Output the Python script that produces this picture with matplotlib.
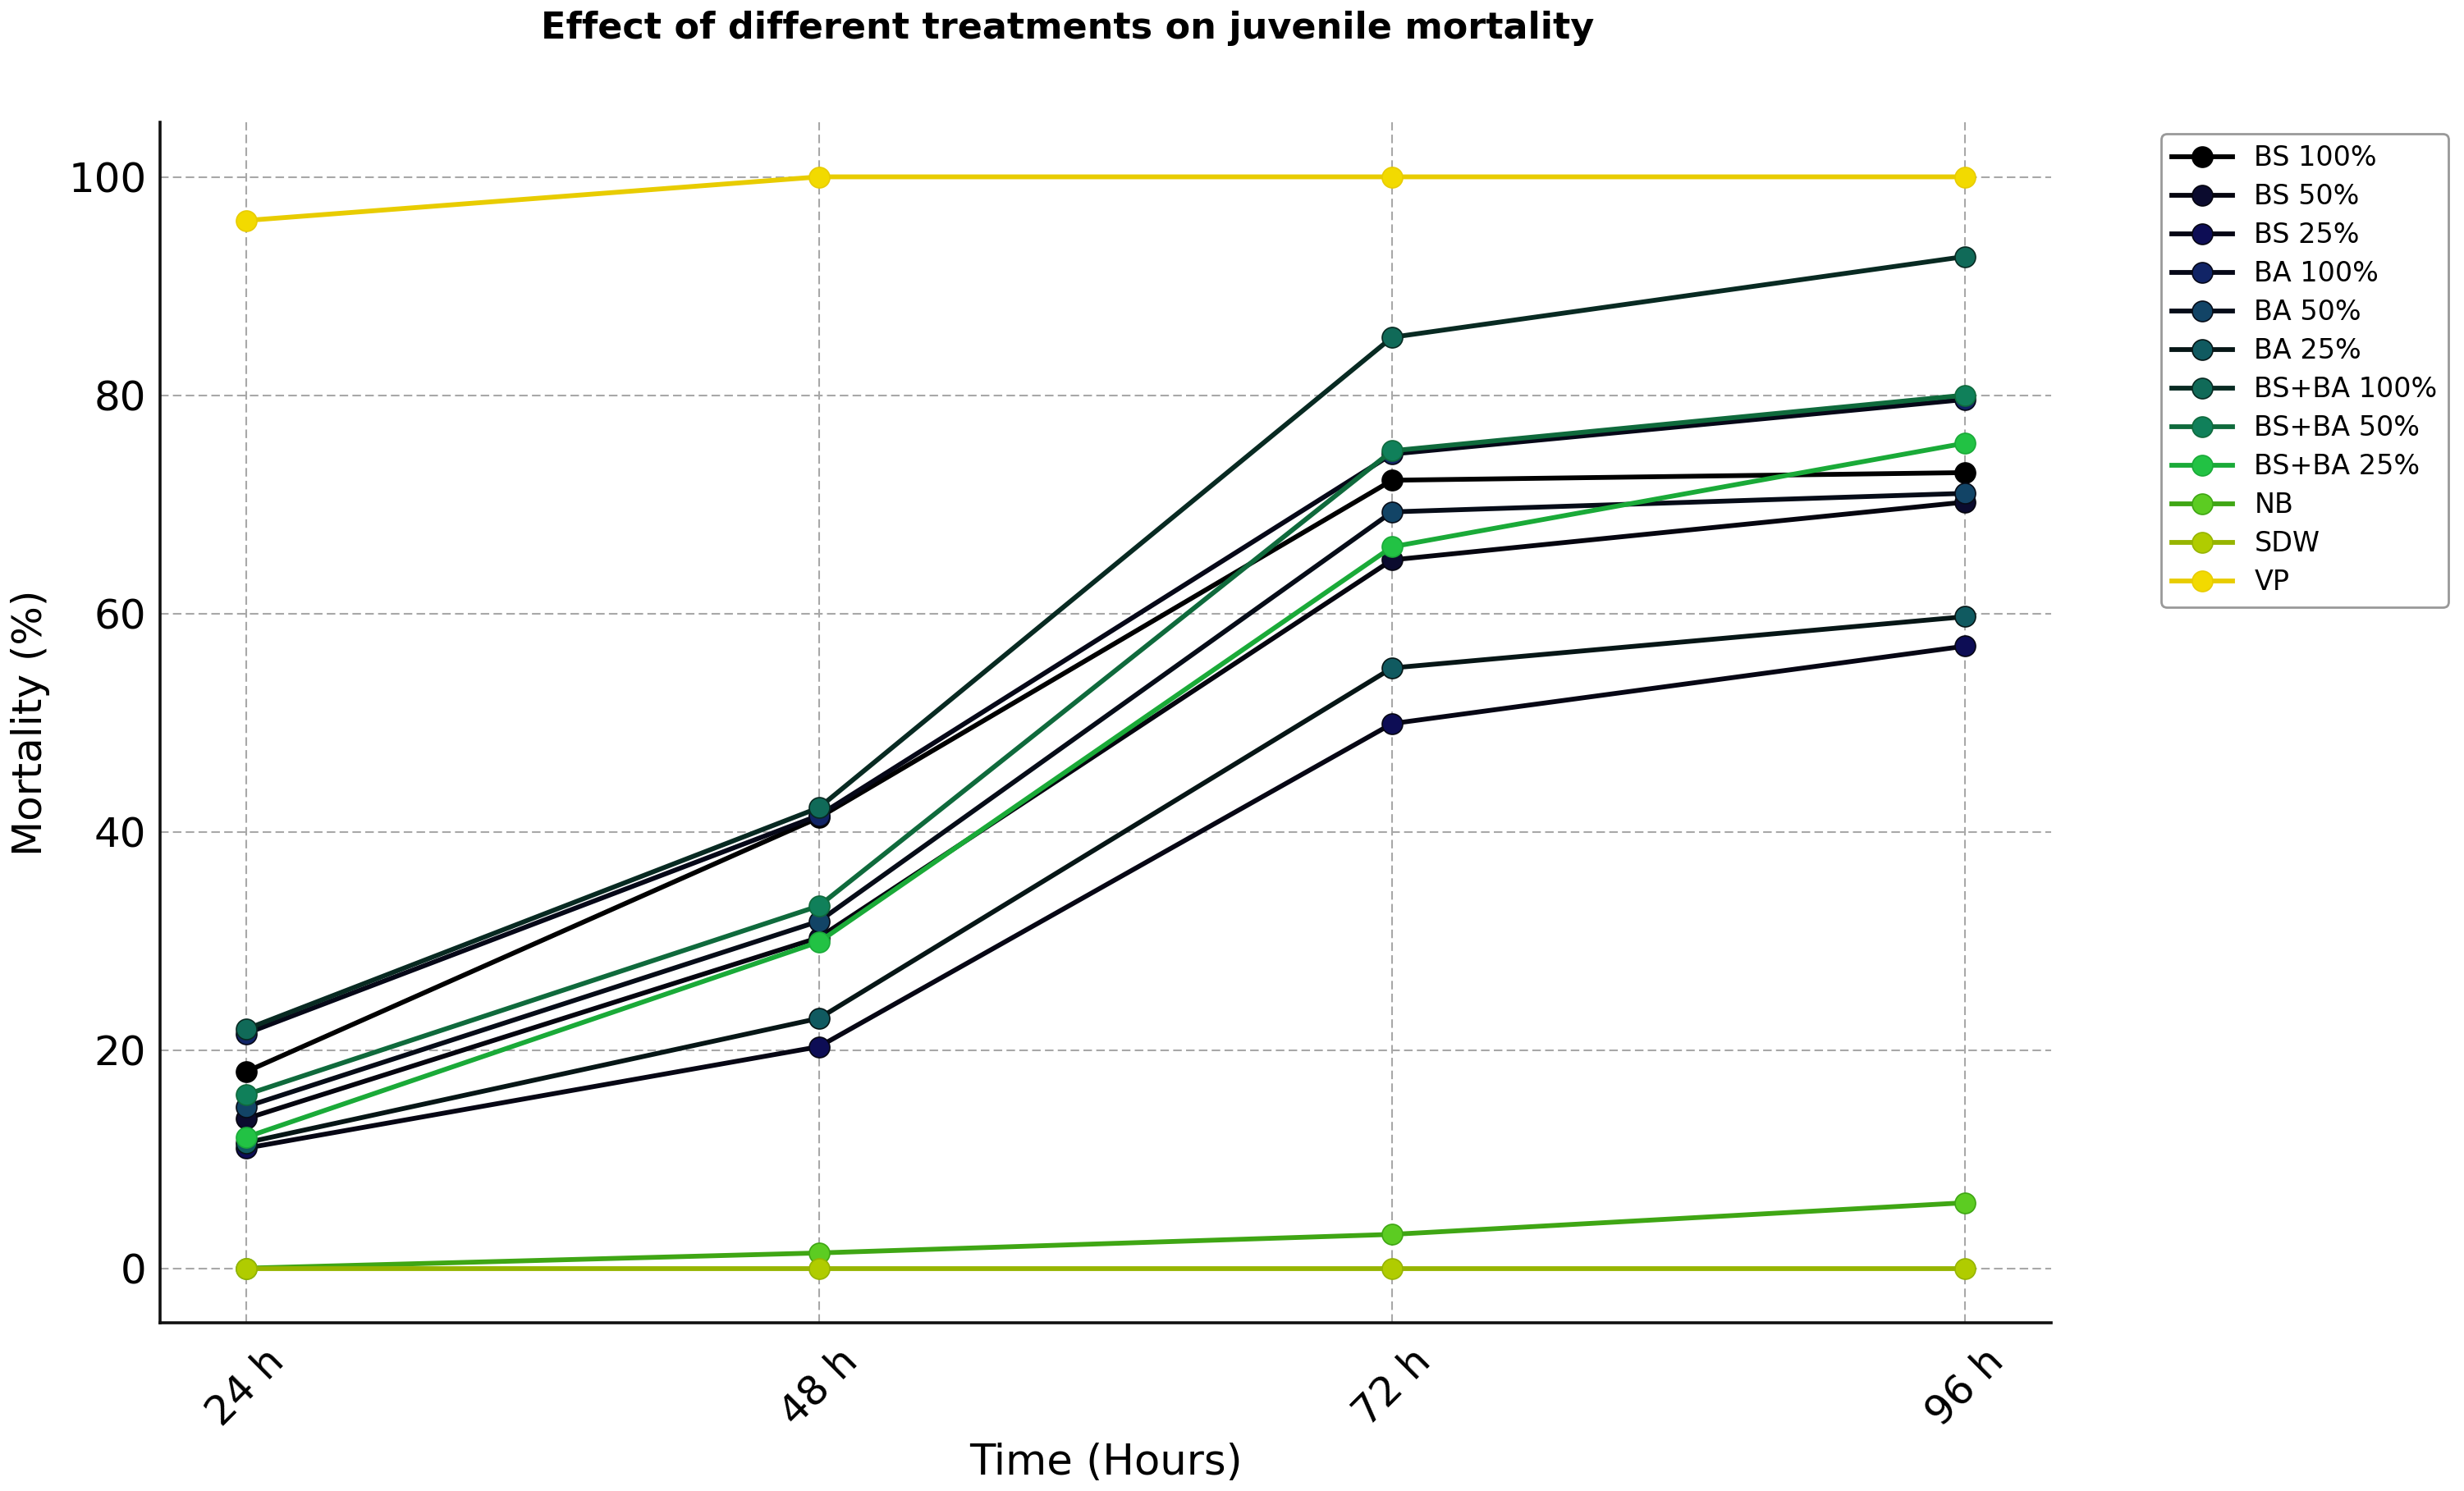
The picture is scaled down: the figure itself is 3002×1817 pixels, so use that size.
import matplotlib
matplotlib.use("Agg")
import matplotlib.pyplot as plt
from matplotlib import font_manager as fm

# ---- data ----
time_labels = ["24 h", "48 h", "72 h", "96 h"]
series_names = ["BS 100%", "BS 50%", "BS 25%", "BA 100%", "BA 50%", "BA 25%",
                "BS+BA 100%", "BS+BA 50%", "BS+BA 25%", "NB", "SDW", "VP"]
bs_100 = [18.0, 41.3, 72.2, 72.9]
bs_50 = [13.7, 30.3, 64.9, 70.2]
bs_25 = [11.0, 20.3, 49.9, 57.0]
ba_100 = [21.5, 41.5, 74.6, 79.6]
ba_50 = [14.8, 31.8, 69.3, 71.0]
ba_25 = [11.5, 22.9, 55.0, 59.7]
bsba_100 = [21.9, 42.2, 85.3, 92.7]
bsba_50 = [15.9, 33.2, 74.9, 80.0]
bsba_25 = [12.0, 29.9, 66.1, 75.6]
nb = [0.0, 1.4, 3.1, 6.0]
sdw = [0.0, 0.0, 0.0, 0.0]
vp = [96.0, 100.0, 100.0, 100.0]
all_series = [bs_100, bs_50, bs_25, ba_100, ba_50, ba_25,
              bsba_100, bsba_50, bsba_25, nb, sdw, vp]

# ---- styles ----
marker_colors = ["#000000", "#0b0b2e", "#0d0d55", "#112466", "#124466", "#105a60",
                 "#106a58", "#10805a", "#22c244", "#5ccc22", "#b0cc00", "#f2da00"]
line_colors = ["#000000", "#05050f", "#060614", "#060818", "#060c18", "#061616",
               "#082a22", "#0f6a3c", "#1aaa38", "#3fa614", "#96b400", "#e8cc00"]

names = {f.name for f in fm.fontManager.ttflist}
title_family = "Liberation Sans Narrow" if "Liberation Sans Narrow" in names else "DejaVu Sans"

W, H, DPI = 3002, 1817, 100
fig = plt.figure(figsize=(W / DPI, H / DPI), dpi=DPI, facecolor="white")
ax = fig.add_axes([195 / W, 1 - 1612 / H, (2499 - 195) / W, (1612 - 149) / H])

x = list(range(len(time_labels)))
for name, vals, mc, lc in zip(series_names, all_series, marker_colors, line_colors):
    ax.plot(x, vals, color=lc, linewidth=4.2, marker="o", markersize=18,
            markerfacecolor=mc, markeredgecolor=lc, markeredgewidth=1.2,
            label=name)

ax.set_xticks(x)
ax.set_xticklabels(time_labels, rotation=45, ha="center", fontsize=36)
ax.set_yticks([0, 20, 40, 60, 80, 100])
ax.tick_params(axis="y", labelsize=36, length=0, pad=12)
ax.tick_params(axis="x", length=0, pad=16)
ax.set_xlim(-0.15, 3.15)
ax.set_ylim(-5, 105)

ax.grid(True, color="#a8a8a8", linewidth=1.5, linestyle=(0, (5, 2.5)))
ax.set_axisbelow(True)
for s in ["top", "right"]:
    ax.spines[s].set_visible(False)
for s in ["left", "bottom"]:
    ax.spines[s].set_linewidth(2.6)
    ax.spines[s].set_color("#111111")

ax.set_xlabel("Time (Hours)", fontsize=37)
ax.xaxis.set_label_coords(0.5, -0.1)
ax.set_ylabel("Mortality (%)", fontsize=36)
ax.yaxis.set_label_coords(-0.058, 0.5)

leg = fig.legend(loc="upper left", bbox_to_anchor=(2633 / W, 1 - 163 / H),
                 bbox_transform=fig.transFigure, borderaxespad=0,
                 fontsize=24, frameon=True, fancybox=True, edgecolor="#999999",
                 framealpha=1.0, labelspacing=0.42, handlelength=2.2)
leg.get_frame().set_linewidth(2.0)

# title, fitted to the reference width
title = fig.text(1301 / W, 1 - 47 / H, "Effect of different treatments on juvenile mortality",
                 ha="center", va="baseline", fontsize=34, fontweight="bold",
                 family=title_family)
fig.canvas.draw()
bb = title.get_window_extent()
target_w = 1285
title.set_fontsize(34 * target_w / bb.width)

fig.savefig("out.png", dpi=DPI, facecolor="white")
